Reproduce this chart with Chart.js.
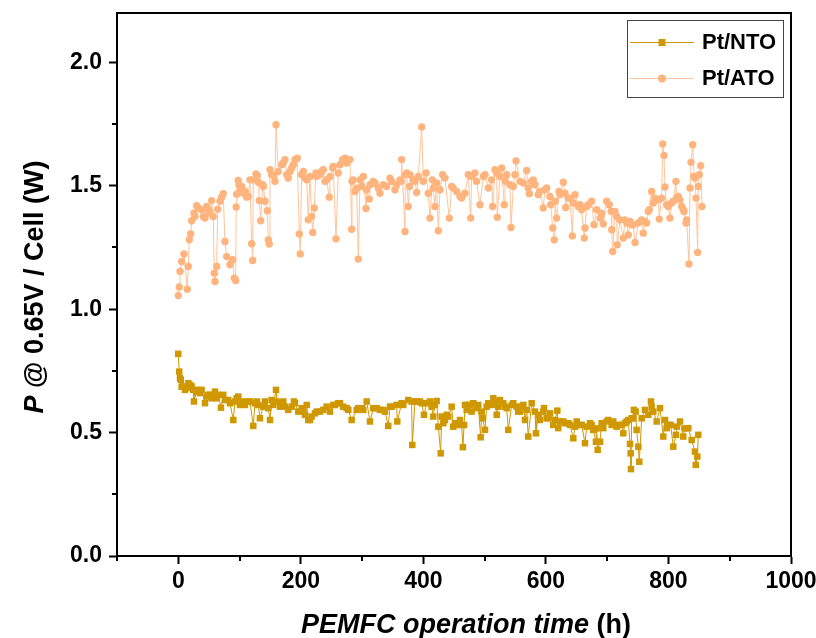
<!DOCTYPE html>
<html><head><meta charset="utf-8">
<script src="https://cdn.jsdelivr.net/npm/chart.js@4.4.1/dist/chart.umd.min.js"></script>
<style>html,body{margin:0;padding:0;background:#fff;}#c{display:block;}</style>
</head><body>
<canvas id="c" width="816" height="638" style="width:816px;height:638px"></canvas>
<script>
// ---- data ----
const seriesLabels = ['Pt/NTO', 'Pt/ATO'];

const ntoHours = [0,1.6,2.8,4,5.5,8.2,10.9,13.6,16.4,19.1,21.8,24.5,25.6,30,32.6,35.4,38.1,43.6,46.3,49,51.7,54.5,59.9,62.6,65.3,69.7,73.4,76.2,81.6,84.4,89.8,92.5,95.3,98,100.7,103.4,108.8,111.6,117,122.4,125.2,128,130.6,133.3,138.7,141.5,146.9,149.7,152.4,155,159.5,160.5,166,168.7,171.4,174.1,179.5,185,188.8,190.5,195.9,201.3,204.1,206.8,209.6,212.2,215,217.6,223.1,225.9,231.3,236.7,242.1,247.6,253,255.8,261.2,263.9,269.3,274.8,277.5,283,291.2,293.8,299.3,302,307.5,312.9,318.3,323.8,329.2,334.6,337.3,342.7,345.5,348.3,356.4,357.4,364.5,367.2,375.4,380.8,381.9,386.3,389,394.5,397.2,401,405.3,410.8,413.5,416.2,418.9,421.7,424.4,428.3,429.8,432.6,435.3,438.1,440.7,446.2,448.8,451.6,457,459.7,462.5,464.5,466.5,468,470.7,473.3,476.1,478.8,481.5,487,489.6,493.5,495.2,496.8,500.6,503.3,506,511.5,514.2,516.9,519.7,522.4,525,530.5,533.2,536,538.6,544.1,546.8,552.3,554.9,557.7,560.5,563.2,565.9,568.6,571.2,576.8,582.2,583.8,587.6,590.3,595.8,596.9,601.2,603.9,606.7,612,614.8,618.6,620.2,623,628.4,631.2,636.5,639.3,644.7,647.5,650.2,655.6,658.4,663.8,666.5,672,674.7,677.3,681.7,682.8,684.5,688.3,691,693.7,699.2,701.9,707.3,710,715.5,718.1,723.6,726.3,729.1,731.8,734.5,737.2,738.3,738.8,739.9,742.7,743.6,746.5,748,750.8,752.4,756.3,761.7,767.1,771.5,772.6,775.3,780.8,786.2,791.6,794.4,797.1,799.8,803.6,807.9,812.3,813.4,818.8,824.2,827,832.4,837.9,843.2,844.5,847.1,848.7];
const ntoPower = [0.819,0.747,0.72,0.714,0.686,0.687,0.673,0.68,0.7,0.693,0.687,0.673,0.626,0.666,0.673,0.66,0.673,0.619,0.646,0.653,0.653,0.639,0.666,0.639,0.653,0.601,0.653,0.632,0.632,0.619,0.551,0.626,0.639,0.646,0.612,0.626,0.612,0.626,0.626,0.527,0.619,0.626,0.612,0.558,0.605,0.626,0.599,0.551,0.632,0.612,0.673,0.626,0.605,0.619,0.626,0.605,0.592,0.605,0.626,0.619,0.585,0.599,0.585,0.572,0.612,0.551,0.551,0.565,0.578,0.585,0.585,0.592,0.605,0.585,0.612,0.612,0.619,0.619,0.605,0.599,0.592,0.551,0.592,0.599,0.599,0.592,0.626,0.545,0.599,0.599,0.592,0.592,0.585,0.527,0.605,0.605,0.612,0.545,0.619,0.612,0.632,0.626,0.45,0.626,0.626,0.626,0.619,0.572,0.619,0.626,0.605,0.565,0.612,0.628,0.524,0.416,0.565,0.538,0.551,0.572,0.565,0.605,0.524,0.538,0.531,0.551,0.531,0.441,0.531,0.612,0.592,0.612,0.612,0.585,0.619,0.599,0.612,0.481,0.585,0.558,0.511,0.605,0.619,0.612,0.639,0.626,0.572,0.605,0.632,0.619,0.605,0.599,0.511,0.612,0.619,0.605,0.585,0.585,0.605,0.612,0.551,0.592,0.484,0.619,0.585,0.497,0.572,0.551,0.585,0.599,0.558,0.558,0.578,0.531,0.551,0.589,0.518,0.545,0.545,0.538,0.538,0.531,0.477,0.524,0.545,0.531,0.531,0.457,0.524,0.538,0.531,0.511,0.463,0.517,0.43,0.463,0.538,0.518,0.545,0.551,0.531,0.545,0.524,0.531,0.531,0.497,0.538,0.545,0.551,0.454,0.416,0.352,0.558,0.558,0.592,0.585,0.511,0.443,0.382,0.558,0.592,0.572,0.626,0.605,0.585,0.545,0.599,0.484,0.551,0.518,0.531,0.531,0.443,0.491,0.524,0.545,0.484,0.517,0.518,0.47,0.423,0.369,0.403,0.491];

const atoHours = [0,1.6,2.8,5.5,9.3,14.7,16.3,18,20.2,21.9,25.6,27.2,30,32.7,38.2,40.9,43.6,46.3,49,51.7,54.5,57.1,58.8,59.9,62.7,64.3,68.1,70.8,73.4,76.2,79,84.4,88.8,91.4,93.7,94.5,95.3,97.9,99,100.7,103.5,106.1,108.9,111.6,114.2,117,119.8,121.4,122.4,126.8,129,130.6,132.2,134.5,137.8,138.8,141.5,145.3,146.9,148.5,149.7,152.4,156.2,157.8,159.5,163.2,168.8,171.4,174.1,176.9,179.5,182.3,185.1,187.7,190.5,194.2,197.5,199.1,201.4,204.1,206.8,209.5,212.2,214.9,217.7,219.4,222,224.7,225.8,231.3,234,236.7,239.4,242.2,246.4,247.6,252,253,257.4,261.1,263.9,268.3,272.1,274.8,280.2,283,283.5,285.6,288.4,291.1,293.8,296.6,299.2,302,306.4,307.4,311.7,312.9,318.3,321,326.4,329.2,334.6,340.1,345.5,348.2,353.7,356.4,361.8,363.5,364.6,370,370.5,372.8,375.4,377.5,378.2,383.6,386.3,389.1,391.7,397.3,399.9,404.3,408,410.8,414.6,416.2,419,421.6,424.4,427.1,431.5,435.2,442.3,446.1,448.8,454.3,459.8,462.4,467.9,473.3,477.2,478.8,484.2,486.9,492.4,497.8,500.6,506,511.4,513.1,516.9,519.6,520.6,525,527.8,532,533.2,536,541.3,543,546.8,549.5,551.2,557.7,563.1,568.6,571.2,572.9,576.7,579.4,582.1,587.6,590.3,595.7,598.4,601.3,606.6,607.8,611.1,613.7,614.8,617.6,621.4,622.9,628.4,631.1,632.3,636.5,639.3,643.1,644.7,647.5,652.8,655.7,658.3,662.6,663.8,666.4,669.2,674.7,678.5,682.9,688.3,690.9,693.7,699.2,703.4,706.5,707.4,709,712.7,715.4,716.5,720.9,726.3,729,731.8,734.5,737.2,740,742.6,745.4,750.8,756.2,758.9,761.6,764.5,767.1,768.7,772.6,775.2,778,783.4,785,788.9,790.6,792.7,794.3,797,799.7,802.5,805.2,807.9,812.3,813.3,816.1,818.8,821.6,824.2,825.4,828.6,829.6,833.5,835.2,836.8,839.6,841.7,843.2,845,847.7,848.6,850.3,852.6,854.7];
const atoPower = [1.055,1.09,1.153,1.193,1.224,1.081,1.173,1.281,1.305,1.358,1.389,1.376,1.419,1.41,1.403,1.376,1.369,1.416,1.403,1.389,1.44,1.376,1.146,1.112,1.173,1.405,1.437,1.454,1.468,1.274,1.213,1.18,1.2,1.126,1.116,1.414,1.466,1.522,1.504,1.484,1.497,1.47,1.477,1.454,1.457,1.524,1.265,1.197,1.524,1.548,1.541,1.514,1.44,1.358,1.504,1.497,1.437,1.399,1.281,1.264,1.565,1.545,1.541,1.518,1.747,1.558,1.585,1.592,1.606,1.545,1.531,1.558,1.572,1.585,1.606,1.612,1.305,1.224,1.545,1.558,1.531,1.524,1.362,1.538,1.376,1.311,1.41,1.552,1.538,1.545,1.558,1.565,1.518,1.524,1.454,1.538,1.572,1.578,1.285,1.552,1.585,1.606,1.612,1.592,1.606,1.324,1.518,1.524,1.477,1.49,1.203,1.524,1.497,1.538,1.408,1.484,1.446,1.504,1.518,1.511,1.491,1.47,1.504,1.497,1.531,1.518,1.484,1.504,1.524,1.518,1.606,1.315,1.545,1.552,1.416,1.497,1.545,1.524,1.518,1.473,1.538,1.738,1.518,1.552,1.47,1.369,1.524,1.491,1.416,1.511,1.318,1.484,1.545,1.531,1.369,1.497,1.491,1.477,1.457,1.45,1.47,1.545,1.369,1.538,1.552,1.518,1.423,1.538,1.545,1.491,1.524,1.416,1.565,1.551,1.372,1.538,1.572,1.423,1.518,1.545,1.504,1.331,1.497,1.545,1.601,1.518,1.511,1.562,1.491,1.468,1.518,1.524,1.504,1.464,1.477,1.41,1.484,1.491,1.457,1.423,1.329,1.281,1.437,1.369,1.477,1.464,1.514,1.47,1.412,1.45,1.45,1.297,1.43,1.464,1.416,1.423,1.403,1.288,1.329,1.416,1.423,1.437,1.342,1.403,1.369,1.389,1.345,1.437,1.423,1.396,1.322,1.234,1.396,1.376,1.261,1.362,1.288,1.362,1.349,1.301,1.355,1.342,1.342,1.27,1.349,1.362,1.308,1.355,1.349,1.396,1.403,1.477,1.43,1.45,1.443,1.365,1.45,1.669,1.623,1.495,1.423,1.416,1.369,1.43,1.437,1.518,1.45,1.457,1.443,1.416,1.403,1.396,1.349,1.362,1.183,1.491,1.595,1.666,1.538,1.531,1.45,1.23,1.497,1.545,1.581,1.416];

const xMajorTicks = [0, 200, 400, 600, 800, 1000];
const xMinorTicks = [-100, 100, 300, 500, 700, 900];
const yMajorTicks = [0, 0.5, 1.0, 1.5, 2.0];
const yMinorTicks = [0.25, 0.75, 1.25, 1.75];
const xTitleParts = ['PEMFC operation time', ' (h)'];
const yTitleParts = ['P', ' @ 0.65V / Cell (W)'];

// ---- styles ----
const NTO_COLOR = '#CF9800';
const ATO_LINE = '#FFC49A';
const ATO_POINT = '#FFB47E';
const FONT = '"Liberation Sans", Arial, sans-serif';

const toXY = (xs, ys) => xs.map((x, i) => ({x: x, y: ys[i]}));

const framePlugin = {
  id: 'frame',
  afterDraw(chart) {
    const {ctx, chartArea: a, scales: {x, y}} = chart;
    ctx.save();
    ctx.strokeStyle = '#000';
    ctx.lineWidth = 2;
    ctx.strokeRect(a.left, a.top, a.right - a.left, a.bottom - a.top);
    ctx.beginPath();
    xMinorTicks.forEach(v => {
      const px = Math.round(x.getPixelForValue(v));
      ctx.moveTo(px, a.bottom); ctx.lineTo(px, a.bottom + 5);
    });
    yMinorTicks.forEach(v => {
      const py = Math.round(y.getPixelForValue(v));
      ctx.moveTo(a.left, py); ctx.lineTo(a.left - 5, py);
    });
    ctx.stroke();

    ctx.fillStyle = '#000';
    ctx.textBaseline = 'alphabetic';
    ctx.textAlign = 'left';
    const fI = 'italic bold 27px ' + FONT, fN = 'bold 27px ' + FONT;
    ctx.font = fI; const w1 = ctx.measureText(xTitleParts[0]).width;
    ctx.font = fN; const w2 = ctx.measureText(xTitleParts[1]).width;
    const sx = 466 - (w1 + w2) / 2;
    ctx.font = fI; ctx.fillText(xTitleParts[0], sx, 633);
    ctx.font = fN; ctx.fillText(xTitleParts[1], sx + w1, 633);

    ctx.save();
    ctx.translate(43, 287);
    ctx.rotate(-Math.PI / 2);
    const gI = 'italic bold 27px ' + FONT, gN = 'bold 27px ' + FONT;
    ctx.font = gI; const v1 = ctx.measureText(yTitleParts[0]).width;
    ctx.font = gN; const v2 = ctx.measureText(yTitleParts[1]).width;
    const sy = -(v1 + v2) / 2;
    ctx.font = gI; ctx.fillText(yTitleParts[0], sy, 0);
    ctx.font = gN; ctx.fillText(yTitleParts[1], sy + v1, 0);
    ctx.restore();

    ctx.lineWidth = 1;
    ctx.strokeStyle = '#444';
    ctx.strokeRect(627.5, 20.5, 156, 77);
    const rows = [
      {label: chart.data.datasets[0].label, y: 42, line: NTO_COLOR, pt: NTO_COLOR, square: true},
      {label: chart.data.datasets[1].label, y: 78, line: ATO_LINE, pt: ATO_POINT, square: false}
    ];
    rows.forEach(r => {
      ctx.strokeStyle = r.line;
      ctx.lineWidth = 1;
      ctx.beginPath(); ctx.moveTo(630, r.y + 0.5); ctx.lineTo(694, r.y + 0.5); ctx.stroke();
      ctx.fillStyle = r.pt;
      if (r.square) { ctx.fillRect(658.5, r.y - 3, 7, 7); }
      else { ctx.beginPath(); ctx.arc(662, r.y + 0.5, 4, 0, Math.PI * 2); ctx.fill(); }
      ctx.fillStyle = '#000';
      ctx.font = 'bold 22px ' + FONT;
      ctx.textBaseline = 'middle';
      ctx.fillText(r.label, 702, r.y + 1);
    });
    ctx.restore();
  }
};

const tickFont = {family: FONT, size: 23, weight: 'bold', lineHeight: 1.0};

new Chart(document.getElementById('c'), {
  type: 'line',
  data: {
    datasets: [
      {
        label: seriesLabels[0],
        data: toXY(ntoHours, ntoPower),
        borderColor: NTO_COLOR, borderWidth: 1,
        pointStyle: 'rect', pointRadius: 4.6,
        pointBackgroundColor: NTO_COLOR, pointBorderWidth: 0,
        tension: 0
      },
      {
        label: seriesLabels[1],
        data: toXY(atoHours, atoPower),
        borderColor: ATO_LINE, borderWidth: 1,
        pointStyle: 'circle', pointRadius: 3.7,
        pointBackgroundColor: ATO_POINT, pointBorderWidth: 0,
        tension: 0
      }
    ]
  },
  options: {
    responsive: false,
    animation: false,
    devicePixelRatio: 1,
    layout: {padding: {left: 0, right: 25, top: 13, bottom: 0}},
    plugins: {legend: {display: false}, tooltip: {enabled: false}},
    scales: {
      x: {
        type: 'linear', min: -100, max: 1000,
        afterFit: s => { s.height = 82; s.paddingRight = 0; s.paddingLeft = 0; },
        afterBuildTicks: s => { s.ticks = xMajorTicks.map(v => ({value: v})); },
        border: {display: true, color: '#000', width: 2},
        grid: {drawOnChartArea: false, drawTicks: true, tickLength: 8, tickWidth: 2, tickColor: '#000'},
        ticks: {color: '#000', font: tickFont, padding: 6, maxRotation: 0, autoSkip: false,
                callback: v => String(v)}
      },
      y: {
        type: 'linear', min: 0, max: 2.2,
        afterFit: s => { s.width = 117; s.paddingTop = 0; s.paddingBottom = 0; },
        afterBuildTicks: s => { s.ticks = yMajorTicks.map(v => ({value: v})); },
        border: {display: true, color: '#000', width: 2},
        grid: {drawOnChartArea: false, drawTicks: true, tickLength: 8, tickWidth: 2, tickColor: '#000'},
        ticks: {color: '#000', font: tickFont, padding: 7, autoSkip: false,
                callback: v => Number(v).toFixed(1)}
      }
    }
  },
  plugins: [framePlugin]
});
</script>
</body></html>
